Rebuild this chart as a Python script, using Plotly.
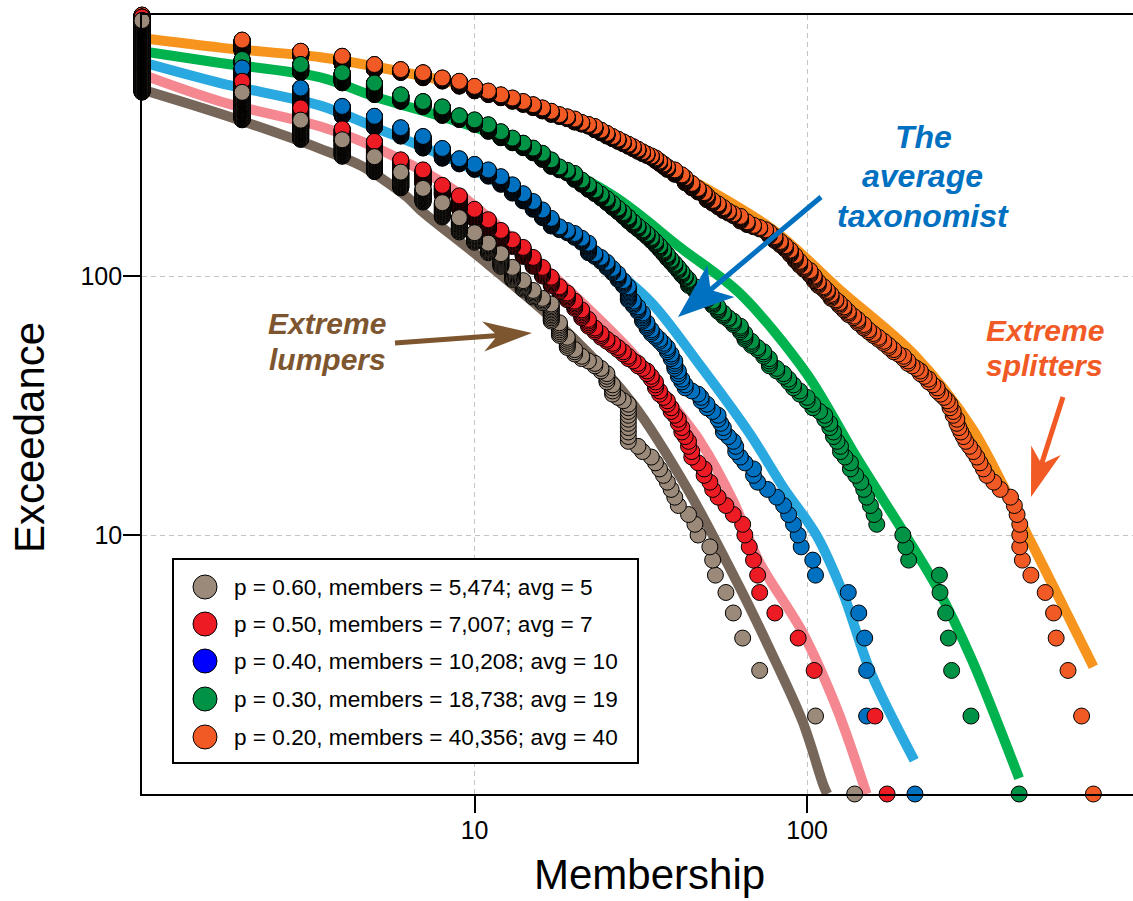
import math
import plotly.graph_objects as go

# ---------------- data ----------------
legend_labels = [
    "p = 0.60, members = 5,474; avg = 5",
    "p = 0.50, members = 7,007; avg = 7",
    "p = 0.40, members = 10,208; avg = 10",
    "p = 0.30, members = 18,738; avg = 19",
    "p = 0.20, members = 40,356; avg = 40",
]

# membership (group size) and exceedance (number of groups with at least that membership)
p60_size = [1, 2, 3, 4, 5, 6, 7, 8, 9, 10, 11, 12, 13, 14, 15, 16, 17, 18, 19, 20, 21, 22, 23, 24, 25,
            26, 27, 28, 29, 31, 32, 34, 35, 36, 37, 38, 39, 40, 41, 44, 46, 47, 51, 52, 53, 57, 60, 64,
            72, 106, 139]
p60_exceed = [970, 512, 400, 336, 289, 252, 218, 192, 168, 147, 134, 122, 108, 96, 88, 82, 78, 66, 58, 52,
              49, 47, 46, 44, 42, 38, 34, 33, 32, 22, 21, 20, 19, 18, 17, 16, 15, 14, 13, 12, 11, 10, 9, 8,
              7, 6, 5, 4, 3, 2, 1]

p50_size = [1, 2, 3, 4, 5, 6, 7, 8, 9, 10, 11, 12, 13, 14, 15, 16, 17, 18, 19, 20, 21, 22, 23, 24, 25,
            26, 27, 28, 29, 30, 31, 32, 33, 34, 35, 36, 37, 38, 39, 40, 41, 42, 43, 44, 45, 47, 49, 51,
            52, 54, 57, 60, 64, 65, 67, 69, 71, 72, 80, 94, 105, 160, 174]
p50_exceed = [1000, 565, 446, 370, 331, 281, 257, 224, 204, 181, 165, 150, 138, 129, 118, 108, 99, 91, 86,
              80, 74, 68, 63, 60, 57, 55, 53, 51, 49, 47, 46, 44, 43, 41, 39, 36, 34, 33, 31, 29, 28, 26,
              24, 23, 21, 19, 18, 16, 15, 14, 13, 12, 11, 10, 9, 8, 7, 6, 5, 4, 3, 2, 1]

p40_size = [1, 2, 3, 4, 5, 6, 7, 8, 9, 10, 11, 12, 13, 14, 15, 16, 17, 18, 19, 20, 21, 22, 23, 24, 25,
            26, 27, 28, 29, 30, 31, 32, 33, 34, 35, 36, 37, 38, 39, 40, 41, 42, 43, 45, 47, 48, 50, 52,
            54, 55, 56, 58, 60, 61, 63, 65, 69, 71, 76, 81, 85, 88, 91, 94, 96, 104, 106, 133, 143, 149,
            151, 211]
p40_exceed = [1000, 636, 532, 452, 414, 374, 346, 311, 284, 270, 257, 242, 225, 208, 194, 180, 167, 155,
              150, 146, 140, 134, 122, 118, 113, 107, 102, 96, 91, 80, 76, 72, 66, 62, 59, 57, 55, 53, 50,
              47, 43, 40, 38, 36, 35, 34, 32, 30, 29, 27, 26, 24, 23, 22, 20, 19, 18, 16, 15, 14, 13, 12,
              11, 10, 9, 8, 7, 6, 5, 4, 3, 1]

p30_size = [1, 2, 3, 4, 5, 6, 7, 8, 9, 10, 11, 12, 13, 14, 15, 16, 17, 18, 19, 20, 21, 22, 23, 24, 25,
            26, 27, 28, 29, 30, 31, 32, 33, 34, 35, 36, 37, 38, 39, 40, 41, 42, 43, 44, 46, 48, 50, 52,
            54, 56, 58, 60, 63, 65, 68, 71, 74, 77, 81, 85, 88, 91, 95, 100, 104, 109, 113, 117, 120,
            123, 126, 130, 135, 140, 145, 148, 151, 155, 159, 162, 194, 198, 202, 250, 251, 261, 266,
            272, 311, 434]
p30_exceed = [1000, 686, 656, 610, 556, 501, 472, 450, 416, 401, 384, 361, 341, 326, 312, 298, 281, 264,
              256, 249, 235, 225, 215, 207, 199, 191, 183, 176, 169, 162, 156, 151, 146, 141, 136, 131,
              126, 121, 116, 112, 108, 104, 100, 97, 91, 87, 83, 80, 76, 72, 69, 67, 64, 60, 56, 53, 51,
              48, 44, 42, 40, 38, 36, 34, 32, 30, 29, 27, 25, 23, 22, 20, 19, 17, 16, 15, 14, 13, 12, 11,
              10, 9, 8, 7, 6, 5, 4, 3, 2, 1]

p20_size = [1, 2, 3, 4, 5, 6, 7, 8, 9, 10, 11, 12, 13, 14, 15, 16, 17, 18, 19, 20, 21, 22, 23, 24, 25,
            26, 27, 28, 29, 30, 31, 32, 33, 34, 35, 36, 37, 38, 40, 42, 43, 45, 47, 49, 50, 52, 54, 56,
            58, 60, 63, 66, 69, 72, 75, 77, 80, 83, 86, 89, 92, 95, 98, 102, 105, 108, 112, 115, 118,
            122, 125, 129, 133, 138, 142, 148, 153, 158, 164, 170, 176, 182, 188, 195, 201, 207, 213,
            219, 225, 232, 239, 246, 252, 258, 264, 269, 275, 282, 286, 290, 295, 300, 308, 316, 324,
            331, 339, 347, 364, 381, 409, 420, 428, 436, 444, 471, 520, 551, 561, 609, 669, 726]
p20_exceed = [1020, 815, 738, 706, 656, 627, 610, 582, 565, 540, 518, 501, 487, 472, 459, 446, 433, 420,
              412, 404, 392, 385, 378, 366, 356, 346, 338, 330, 323, 316, 309, 302, 296, 291, 286, 278,
              271, 264, 257, 246, 240, 228, 218, 210, 205, 196, 190, 184, 178, 174, 170, 162, 157, 154,
              151, 148, 142, 136, 131, 126, 120, 114, 109, 105, 100, 95, 91, 88, 85, 81, 79, 76, 73, 70,
              68, 65, 62, 60, 58, 56, 54, 52, 50, 49, 47, 45, 44, 43, 41, 40, 38, 37, 35, 34, 33, 32, 30,
              28, 26, 25, 24, 23, 22, 21, 20, 19, 18, 17, 16, 15, 14, 13, 12, 11, 8, 7, 6, 5, 4, 3, 2, 1]

# fitted exceedance curves (thick lines)
p60_fit_x = [1, 1.72, 3.44, 4.6, 6.26, 6.87, 10.9, 20, 30, 43.5, 63, 77, 97, 112, 115]
p60_fit_y = [525, 423, 310, 265, 202, 180, 112, 57, 32, 15.2, 6.2, 3.65, 1.9, 1.08, 1.0]
p50_fit_x = [1, 1.72, 3.44, 4.97, 8.66, 15, 20, 30, 37.9, 47.7, 60, 71.7, 97, 123, 151]
p50_fit_y = [600, 472, 378, 316, 215, 118, 84, 50, 34, 23, 13.5, 7.9, 4.2, 2.13, 1.0]
p40_fit_x = [1, 1.72, 3.44, 4.97, 11.1, 20, 33.7, 46.6, 67.4, 85, 106.6, 128.6, 155, 210]
p40_fit_y = [670, 556, 455, 377, 239, 140, 80, 47, 24.5, 15.2, 10, 5.9, 2.97, 1.35]
p30_fit_x = [1, 1.72, 3.44, 4.97, 11.1, 26, 41.5, 62.9, 99.8, 141, 199.5, 247, 313, 434]
p30_fit_y = [738, 665, 585, 495, 357, 205, 129, 85.5, 41.9, 19.9, 9.8, 6.2, 3.3, 1.15]
p20_fit_x = [1, 1.72, 3.44, 4.97, 10.9, 20, 40, 79, 126, 209, 316, 469, 548, 726]
p20_fit_y = [830, 762, 700, 646, 518, 405, 255, 151, 88, 50, 25.4, 9.5, 6.4, 3.1]

x_tick_values = [10, 100]
y_tick_values = [10, 100]

# ---------------- styling ----------------
FONT = "Liberation Sans, Arial, Helvetica, sans-serif"
dot_colors = {"p60": "#9b8a79", "p50": "#ed1c24", "p40": "#0070c0", "p30": "#009245", "p20": "#f15a24"}
line_colors = {"p60": "#76675a", "p50": "#f4878f", "p40": "#29a9e0", "p30": "#00b34f", "p20": "#f7941d"}
legend_colors = ["#9b8a79", "#ed1c24", "#0000ff", "#009245", "#f15a24"]

W, H = 1133, 901
PL, PR, PT, PB = 142, 1133, 15, 794


def fx(x):
    return (x - PL) / (PR - PL)


def fy(y):
    return (PB - y) / (PB - PT)


def rank_points(sizes, exceed):
    pts = []
    for i, (s, e) in enumerate(zip(sizes, exceed)):
        low = exceed[i + 1] + 1 if i + 1 < len(exceed) else 1
        for r in range(low, e + 1):
            pts.append((r, s))
    pts.sort()
    return [s for r, s in pts], [r for r, s in pts]


series = [
    ("p20", p20_size, p20_exceed, p20_fit_x, p20_fit_y),
    ("p30", p30_size, p30_exceed, p30_fit_x, p30_fit_y),
    ("p40", p40_size, p40_exceed, p40_fit_x, p40_fit_y),
    ("p50", p50_size, p50_exceed, p50_fit_x, p50_fit_y),
    ("p60", p60_size, p60_exceed, p60_fit_x, p60_fit_y),
]

fig = go.Figure()
for key, s, e, lx, ly in series:
    fig.add_trace(go.Scatter(x=lx, y=ly, mode="lines",
                             line=dict(color=line_colors[key], width=10, shape="spline", smoothing=0.9),
                             hoverinfo="skip", showlegend=False))
for key, s, e, lx, ly in series:
    xs, ys = rank_points(s, e)
    fig.add_trace(go.Scatter(x=xs, y=ys, mode="markers",
                             marker=dict(size=16, color=dot_colors[key],
                                         line=dict(color="black", width=1)),
                             cliponaxis=False, hoverinfo="skip", showlegend=False))

axis_common = dict(
    type="log", showline=True, linecolor="black", linewidth=1.6,
    ticks="outside", ticklen=17, tickwidth=1.6, tickcolor="black",
    showgrid=True, gridcolor="#c4c4c4", gridwidth=1, griddash="5px,4px",
    zeroline=False, tickfont=dict(size=25, color="black", family=FONT),
    ticklabelstandoff=-4,
)
fig.update_layout(
    width=W, height=H,
    margin=dict(l=PL, r=W - PR, t=PT, b=H - PB, pad=0),
    paper_bgcolor="white", plot_bgcolor="white",
    showlegend=False,
    font=dict(family=FONT, color="black"),
    xaxis=dict(range=[0, 2.98], tickvals=x_tick_values,
               ticktext=[str(v) for v in x_tick_values], mirror=True, **axis_common),
    yaxis=dict(range=[0, 3.008], tickvals=y_tick_values,
               ticktext=[str(v) for v in y_tick_values], mirror=False, **axis_common),
)


def arrow_path(x0, y0, x1, y1, shaft, head_len, head_w, notch):
    dx, dy = x1 - x0, y1 - y0
    L = math.hypot(dx, dy)
    ux, uy = dx / L, dy / L
    nx, ny = -uy, ux
    bx, by = x1 - ux * head_len, y1 - uy * head_len
    kx, ky = x1 - ux * (head_len - notch), y1 - uy * (head_len - notch)
    pts = [
        (x0 + nx * shaft / 2, y0 + ny * shaft / 2),
        (kx + nx * shaft / 2, ky + ny * shaft / 2),
        (bx + nx * head_w / 2, by + ny * head_w / 2),
        (x1, y1),
        (bx - nx * head_w / 2, by - ny * head_w / 2),
        (kx - nx * shaft / 2, ky - ny * shaft / 2),
        (x0 - nx * shaft / 2, y0 - ny * shaft / 2),
    ]
    return "M " + " L ".join(f"{fx(a):.5f},{fy(b):.5f}" for a, b in pts) + " Z"


shapes = []
annotations = []

# arrows
for (x0, y0, x1, y1, hl, hw, col) in [
    (821, 197, 678, 317, 56, 42, "#0070c0"),
    (395, 343, 532, 333, 49, 30, "#7d5630"),
    (1063, 397, 1031, 497, 49, 31, "#f15a24"),
]:
    shapes.append(dict(type="path", xref="paper", yref="paper",
                       path=arrow_path(x0, y0, x1, y1, 5, hl, hw, 12),
                       fillcolor=col, line=dict(width=0), layer="above"))


def label(text, x, y, size, color):
    annotations.append(dict(text=f"<b><i>{text}</i></b>", x=fx(x), y=fy(y), xref="paper", yref="paper",
                            xanchor="center", yanchor="middle", showarrow=False,
                            font=dict(family=FONT, size=size, color=color)))


label("The", 923, 137, 32, "#0070c0")
label("average", 922, 176, 32, "#0070c0")
label("taxonomist", 923, 216, 32, "#0070c0")
label("Extreme", 327, 323, 30, "#7d5630")
label("lumpers", 327, 360, 30, "#7d5630")
label("Extreme", 1045, 330, 30, "#f15a24")
label("splitters", 1044, 365, 30, "#f15a24")

# axis titles
annotations.append(dict(text="Membership", x=fx(649), y=fy(875), xref="paper", yref="paper",
                        xanchor="center", yanchor="middle", showarrow=False,
                        font=dict(family=FONT, size=42, color="black")))
annotations.append(dict(text="Exceedance", x=fx(29), y=fy(438), xref="paper", yref="paper",
                        xanchor="center", yanchor="middle", showarrow=False, textangle=-90,
                        font=dict(family=FONT, size=42, color="black")))

# legend box
shapes.append(dict(type="rect", xref="paper", yref="paper",
                   x0=fx(173), x1=fx(638), y0=fy(763), y1=fy(559),
                   fillcolor="white", line=dict(color="black", width=2), layer="above"))
row_y = [587, 624, 661, 699, 737]
for lab, col, ry in zip(legend_labels, legend_colors, row_y):
    shapes.append(dict(type="circle", xref="paper", yref="paper",
                       x0=fx(193), x1=fx(217), y0=fy(ry + 12), y1=fy(ry - 12),
                       fillcolor=col, line=dict(color="black", width=1), layer="above"))
    annotations.append(dict(text=lab, x=fx(232), y=fy(ry), xref="paper", yref="paper",
                            xanchor="left", yanchor="middle", showarrow=False,
                            font=dict(family=FONT, size=22.6, color="black")))

fig.update_layout(shapes=shapes, annotations=annotations)
fig.write_html("out.html")
